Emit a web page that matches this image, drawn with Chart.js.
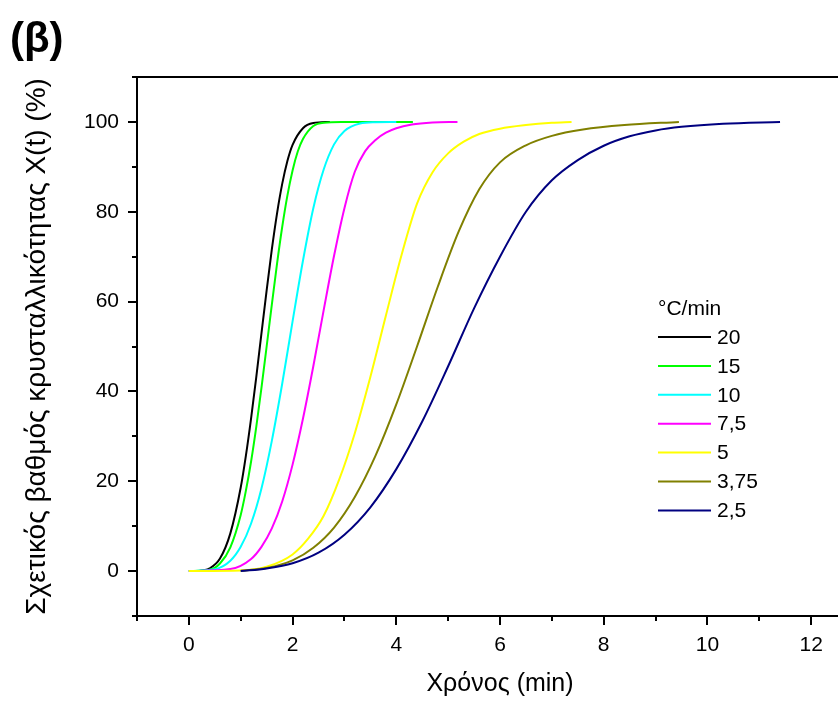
<!DOCTYPE html>
<html><head><meta charset="utf-8">
<script src="https://cdn.jsdelivr.net/npm/chart.js@4.4.1/dist/chart.umd.min.js"></script>
<style>
html,body{margin:0;padding:0;background:#fff;overflow:hidden;width:838px;height:702px}
#wrap{position:absolute;left:0;top:0;width:880px;height:702px}
</style></head>
<body><div id="wrap"><canvas id="c" width="880" height="702"></canvas></div>
<script>
// Series (rate, °C/min)
const seriesLabels = ['20', '15', '10', '7,5', '5', '3,75', '2,5'];
const seriesColors = ['#000000', '#00ff00', '#00ffff', '#ff00ff', '#ffff00', '#808000', '#000080'];

// time (min) and relative crystallinity X(t) (%)
const t20 = [0, 0.2, 0.4, 0.6, 0.8, 1.0, 1.1, 1.2, 1.3, 1.4, 1.5, 1.6, 1.7, 1.8, 1.9, 2.0, 2.2, 2.4, 2.72];
const x20 = [0, 0.04, 0.6, 2.8, 8.4, 18.6, 25.7, 34.0, 43.2, 52.9, 62.5, 71.6, 79.6, 86.2, 91.3, 94.9, 98.6, 99.75, 100];

const t15 = [0, 0.4, 0.6, 0.8, 1.0, 1.1, 1.2, 1.3, 1.4, 1.5, 1.6, 1.7, 1.8, 1.9, 2.0, 2.1, 2.2, 2.4, 2.6, 3.0, 3.6, 4.32];
const x15 = [0, 0.3, 1.7, 5.3, 12.5, 17.9, 24.4, 32.1, 40.8, 50.0, 59.3, 68.4, 76.6, 83.6, 89.2, 93.4, 96.2, 99.1, 99.84, 99.98, 100, 100];

const t10 = [0, 0.5, 0.8, 1.0, 1.2, 1.4, 1.6, 1.8, 2.0, 2.2, 2.4, 2.6, 2.8, 3.0, 3.3, 3.6, 4.0];
const x10 = [0, 0.4, 2.3, 5.4, 10.6, 18.4, 29.0, 41.7, 55.6, 69.1, 80.8, 89.4, 95.0, 98.0, 99.66, 99.95, 100];

const t75 = [0, 0.8, 1.2, 1.4, 1.6, 1.8, 2.0, 2.2, 2.4, 2.6, 2.8, 3.0, 3.2, 3.4, 3.6, 3.8, 4.0, 4.3, 4.7, 5.18];
const x75 = [0, 0.45, 2.7, 5.4, 9.5, 15.5, 23.7, 33.9, 45.6, 58.1, 70.2, 80.8, 88.9, 93.5, 96.0, 97.6, 98.6, 99.4, 99.85, 100];

const t5 = [0, 1.0, 1.5, 2.0, 2.3, 2.6, 2.9, 3.2, 3.5, 3.8, 4.1, 4.4, 4.7, 5.0, 5.3, 5.6, 6.0, 6.5, 7.0, 7.38];
const x5 = [0, 0.13, 0.95, 3.7, 7.2, 12.3, 20.4, 30.7, 43.2, 56.9, 70.3, 81.8, 88.8, 93.0, 95.6, 97.3, 98.5, 99.3, 99.8, 100];

const t375 = [1.0, 1.5, 2.0, 2.4, 2.8, 3.2, 3.6, 4.0, 4.4, 4.8, 5.2, 5.6, 6.0, 6.5, 7.0, 7.6, 8.4, 9.45];
const x375 = [0.1, 0.7, 2.4, 5.2, 9.7, 16.5, 25.7, 37.1, 50.0, 63.3, 75.5, 85.0, 91.0, 94.8, 96.9, 98.3, 99.3, 100];

const t25 = [1.0, 1.5, 2.0, 2.5, 3.0, 3.5, 4.0, 4.5, 5.0, 5.5, 6.0, 6.5, 7.0, 7.5, 8.0, 8.5, 9.0, 9.5, 10.3, 11.4];
const x25 = [0, 0.6, 1.75, 4.1, 8.1, 14.2, 22.7, 33.3, 45.6, 58.5, 70.0, 80.0, 87.0, 91.5, 94.7, 96.8, 98.1, 98.9, 99.6, 100];

const seriesTimes = [t20, t15, t10, t75, t5, t375, t25];
const seriesValues = [x20, x15, x10, x75, x5, x375, x25];

const xTickLabels = ['0', '2', '4', '6', '8', '10', '12'];
const yTickLabels = ['0', '20', '40', '60', '80', '100'];
const xTitle = 'Χρόνος (min)';
const yTitle = 'Σχετικός βαθμός κρυσταλλικότητας X(t) (%)';
const legendTitle = '°C/min';
const panelLabel = '(β)';

const FONT = "'Liberation Sans', Arial, sans-serif";

const datasets = seriesLabels.map((lab, i) => ({
  label: lab,
  data: seriesTimes[i].map((t, j) => ({x: t, y: seriesValues[i][j]})),
  borderColor: seriesColors[i],
  backgroundColor: seriesColors[i],
  borderWidth: 2,
  pointRadius: 0,
  fill: false,
  cubicInterpolationMode: 'monotone',
  order: seriesLabels.length - i
}));

const decor = {
  id: 'decor',
  afterDraw(chart) {
    const {ctx, chartArea: a, scales: {x, y}} = chart;
    ctx.save();
    ctx.strokeStyle = '#000';
    ctx.lineWidth = 2;
    ctx.beginPath();
    ctx.moveTo(a.left - 1, a.top); ctx.lineTo(a.right, a.top);
    ctx.moveTo(a.left, a.top); ctx.lineTo(a.left, a.bottom + 1);
    ctx.moveTo(a.left - 1, a.bottom); ctx.lineTo(a.right, a.bottom);
    ctx.moveTo(a.right, a.top); ctx.lineTo(a.right, a.bottom);
    ctx.stroke();
    ctx.beginPath();
    for (let v = x.min; v <= x.max; v += 1) {
      const px = Math.round(x.getPixelForValue(v));
      const L = (v % 2 === 0) ? 9 : 5;
      ctx.moveTo(px, a.bottom); ctx.lineTo(px, a.bottom + L);
    }
    for (let v = y.min; v <= y.max; v += 10) {
      const py = Math.round(y.getPixelForValue(v));
      const L = (v % 20 === 0) ? 9 : 5;
      ctx.moveTo(a.left, py); ctx.lineTo(a.left - L, py);
    }
    ctx.stroke();

    // legend
    ctx.fillStyle = '#000';
    ctx.font = '21px ' + FONT;
    ctx.textBaseline = 'middle';
    ctx.textAlign = 'left';
    ctx.fillText(legendTitle, 658, 309);
    chart.data.datasets.forEach((ds, i) => {
      const yy = 337 + i * 28.9;
      ctx.strokeStyle = ds.borderColor;
      ctx.lineWidth = 2;
      ctx.beginPath();
      ctx.moveTo(658, yy); ctx.lineTo(711, yy);
      ctx.stroke();
      ctx.fillStyle = '#000';
      ctx.fillText(ds.label, 717, yy + 1);
    });

    // panel label
    ctx.font = 'bold 42px ' + FONT;
    ctx.textBaseline = 'alphabetic';
    ctx.fillText(panelLabel, 10, 52);
    ctx.restore();
  }
};

new Chart(document.getElementById('c'), {
  type: 'line',
  data: {datasets},
  options: {
    responsive: false,
    animation: false,
    devicePixelRatio: 1,
    layout: {padding: {left: 0, top: 77, right: 11.25, bottom: 0}},
    plugins: {legend: {display: false}, tooltip: {enabled: false}},
    scales: {
      x: {
        type: 'linear', min: -1, max: 13,
        afterFit: s => { s.height = 86; },
        grid: {display: true, drawOnChartArea: false, drawTicks: false},
        border: {display: false},
        ticks: {
          stepSize: 1, autoSkip: false, maxRotation: 0, padding: 17,
          color: '#000', font: {family: FONT, size: 21},
          callback: v => xTickLabels.includes(String(v)) ? String(v) : ''
        },
        title: {display: true, text: xTitle, color: '#000', font: {family: FONT, size: 25}, padding: {top: 0, bottom: 3}}
      },
      y: {
        type: 'linear', min: -10, max: 110,
        afterFit: s => { s.width = 137; },
        grid: {display: true, drawOnChartArea: false, drawTicks: false},
        border: {display: false},
        ticks: {
          stepSize: 10, autoSkip: false, padding: 18,
          color: '#000', font: {family: FONT, size: 21},
          callback: v => yTickLabels.includes(String(v)) ? String(v) : ''
        },
        title: {display: true, text: yTitle, color: '#000', font: {family: FONT, size: 28}, padding: {top: 20, bottom: 0}}
      }
    }
  },
  plugins: [decor]
});
</script>
</body></html>
